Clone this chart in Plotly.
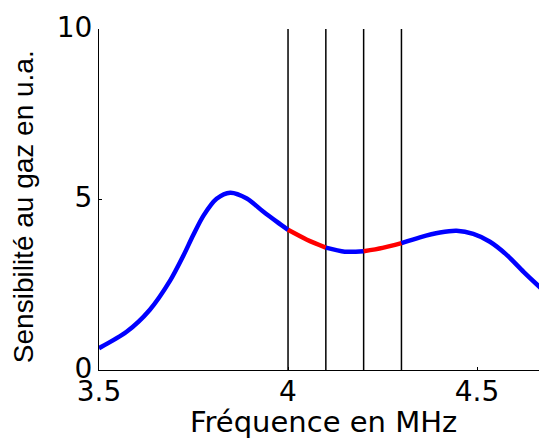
import plotly.graph_objects as go

# Data
freq = [3.50, 3.573, 3.634, 3.688, 3.723, 3.749, 3.776, 3.811, 3.847, 3.891, 3.935, 3.970,
        4.00, 4.05, 4.10, 4.15, 4.20, 4.25, 4.30,
        4.349, 4.402, 4.446, 4.490, 4.534, 4.579, 4.623, 4.667, 4.685]
sens = [0.64, 1.12, 1.76, 2.62, 3.35, 3.95, 4.52, 5.02, 5.20, 5.03, 4.64, 4.35,
        4.11, 3.82, 3.59, 3.47, 3.48, 3.58, 3.72,
        3.89, 4.03, 4.08, 3.99, 3.76, 3.37, 2.88, 2.42, 2.24]
marker_freqs = [4.0, 4.1, 4.2, 4.3]
red_bands = [(4.0, 4.1), (4.2, 4.3)]
xticks = [3.5, 4, 4.5]
xtick_text = ["3.5", "4", "4.5"]
yticks = [0, 5, 10]
ytick_text = ["0", "5", "10"]

BLUE = "#0000ff"
RED = "#ff0000"

fig = go.Figure()

# vertical marker lines from 0 to 10
vx, vy = [], []
for f in marker_freqs:
    vx += [f, f, None]
    vy += [0, 10, None]
fig.add_trace(go.Scatter(x=vx, y=vy, mode="lines",
                         line=dict(color="black", width=1.5),
                         hoverinfo="skip", showlegend=False))

# split the curve into colored segments
edges = sorted(set([freq[0]] + [e for b in red_bands for e in b] + [freq[-1]]))
for a, b in zip(edges[:-1], edges[1:]):
    xs = [f for f in freq if a - 1e-9 <= f <= b + 1e-9]
    ys = [s for f, s in zip(freq, sens) if a - 1e-9 <= f <= b + 1e-9]
    is_red = any(abs(a - r0) < 1e-9 and abs(b - r1) < 1e-9 for r0, r1 in red_bands)
    fig.add_trace(go.Scatter(x=xs, y=ys, mode="lines",
                             line=dict(color=RED if is_red else BLUE, width=4.5,
                                       shape="spline", smoothing=0.8),
                             showlegend=False))

# the page body has an 8px margin, so the figure is 8px smaller on each axis
fig.update_layout(
    width=539, height=431,
    margin=dict(l=91, r=0, t=21, b=69),
    paper_bgcolor="white", plot_bgcolor="white",
    font=dict(family="Liberation Sans, Arial, sans-serif", color="black"),
    annotations=[
        dict(text="Fréquence en MHz", xref="paper", yref="paper", x=0.5, y=-0.152,
             xanchor="center", yanchor="middle", showarrow=False,
             font=dict(family="DejaVu Sans", size=29, color="black")),
        dict(text="Sensibilité au gaz en u.a.", xref="paper", yref="paper", x=-0.17, y=0.48,
             xanchor="center", yanchor="middle", showarrow=False, textangle=-90,
             font=dict(family="Liberation Sans", size=28, color="black")),
    ],
)
fig.update_xaxes(
    range=[3.5, 4.685], tickvals=xticks, ticktext=xtick_text, automargin=False,
    showgrid=False, zeroline=False, showline=True, linecolor="black", linewidth=1,
    ticks="inside", ticklen=3, tickcolor="black",
    tickfont=dict(family="DejaVu Sans", size=28), ticklabelstandoff=-4,
)
fig.update_yaxes(
    range=[0, 10], tickvals=yticks, ticktext=ytick_text, automargin=False,
    showgrid=False, zeroline=False, showline=True, linecolor="black", linewidth=1,
    ticks="inside", ticklen=3, tickcolor="black",
    tickfont=dict(family="DejaVu Sans", size=28), ticklabelshift=-2,
)

fig.write_html("out.html")
